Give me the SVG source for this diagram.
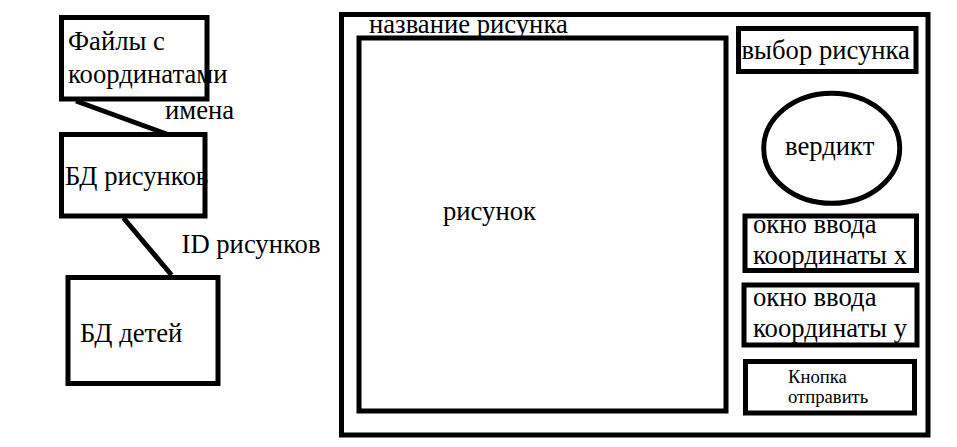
<svg xmlns="http://www.w3.org/2000/svg" width="957" height="447" viewBox="0 0 957 447">
  <style>
    .box { fill: #fff; stroke: #000; stroke-width: 5; }
    .edge { stroke: #000; stroke-width: 5; fill: none; }
    .t { font-family: "Liberation Serif", "Times New Roman", serif; font-size: 26.67px; fill: #000; }
    .s { font-family: "Liberation Serif", "Times New Roman", serif; font-size: 18.67px; fill: #000; }
  </style>
  <rect width="957" height="447" fill="#fff"/>

  <!-- connectors between the data sources -->
  <g id="connectors">
    <line class="edge" x1="76" y1="101" x2="172" y2="136"/>
    <line class="edge" x1="123.5" y1="218" x2="171.5" y2="275"/>
    <text class="t" x="165" y="119">имена</text>
    <text class="t" x="181.5" y="253">ID рисунков</text>
  </g>

  <g id="files">
    <rect class="box" x="61.5" y="17.5" width="145.5" height="81.5"/>
    <text class="t" x="68" y="50">Файлы с</text>
    <text class="t" x="68" y="83">координатами</text>
  </g>

  <g id="db-pictures">
    <rect class="box" x="61.5" y="134.5" width="143.5" height="81.5"/>
    <text class="t" x="65" y="185">БД рисунков</text>
  </g>

  <g id="db-children">
    <rect class="box" x="68" y="277.5" width="150" height="106"/>
    <text class="t" x="80" y="341.5">БД детей</text>
  </g>

  <!-- application window -->
  <g id="window">
    <rect class="box" x="341.5" y="14.5" width="586.5" height="420.5"/>
    <text class="t" x="369" y="33">название рисунка</text>
  </g>

  <g id="picture">
    <rect class="box" x="359" y="38" width="367" height="373"/>
    <text class="t" x="443" y="220">рисунок</text>
  </g>

  <g id="picture-select">
    <rect class="box" x="738.5" y="28.5" width="177.5" height="43"/>
    <text class="t" x="741.5" y="59">выбор рисунка</text>
  </g>

  <g id="verdict">
    <ellipse class="box" cx="831.7" cy="148.3" rx="68" ry="55" stroke-width="4.5"/>
    <text class="t" x="785" y="155">вердикт</text>
  </g>

  <g id="input-x">
    <rect class="box" x="745" y="216" width="171.5" height="54.5"/>
    <text class="t" x="753" y="233">окно ввода</text>
    <text class="t" x="753" y="264">координаты х</text>
  </g>

  <g id="input-y">
    <rect class="box" x="744" y="285" width="173" height="60"/>
    <text class="t" x="753" y="306">окно ввода</text>
    <text class="t" x="753" y="336.5">координаты у</text>
  </g>

  <g id="submit">
    <rect class="box" x="745.5" y="361.5" width="169" height="51.5"/>
    <text class="s" x="788" y="382.5">Кнопка</text>
    <text class="s" x="788" y="403">отправить</text>
  </g>
</svg>
